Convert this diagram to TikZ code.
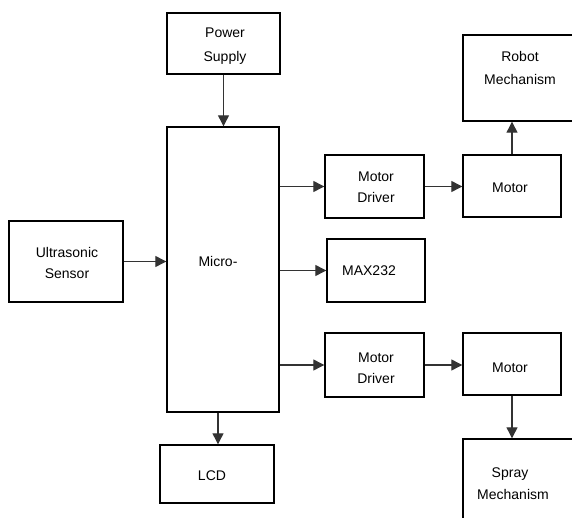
\documentclass[tikz,border=0pt]{standalone}
\usepackage{fontspec}
\setmainfont{Liberation Sans}
\usetikzlibrary{arrows.meta}
\tikzset{
  blk/.style={draw=black, line width=1.4pt, rectangle, inner sep=0pt},
  lbl/.style={font=\fontsize{14}{16}\selectfont, anchor=base, inner sep=0pt},
  arr/.style={line width=1.2pt, draw=black!80, -{Triangle[length=11pt,width=11pt]}},
}
\newcommand{\blkat}[5]{% name, x1, y1, x2, y2
  \node[blk, minimum width=#4pt-#2pt, minimum height=#5pt-#3pt] (#1) at ({(#2+#4)/2},{-(#3+#5)/2}) {};}
\begin{document}
\begin{tikzpicture}[x=1pt,y=1pt]
\useasboundingbox (0,0) rectangle (572,-518);
\clip (0,0) rectangle (572,-518);
% boxes
\blkat{ps}{167}{13}{280}{74}
\blkat{mc}{167}{127}{279}{412}
\blkat{us}{9}{221}{123}{302}
\blkat{lcd}{160}{445}{274}{503}
\blkat{mda}{325}{155}{424}{218}
\blkat{max}{327}{239}{425}{302}
\blkat{mdb}{325}{333}{424}{397}
\blkat{moa}{463}{155}{561}{217}
\blkat{mob}{463}{333}{561}{395}
\blkat{rob}{463}{35}{580}{121}
\blkat{spr}{463}{439}{580}{540}
% labels
\node[lbl] (tps1) at (225,-38) {Power};
\node[lbl] (tps2) at (225,-62) {Supply};
\node[lbl] (tmc) at (218,-266) {Micro-};
\node[lbl] (tus1) at (67,-258) {Ultrasonic};
\node[lbl] (tus2) at (67,-279) {Sensor};
\node[lbl] (tlcd) at (212,-480) {LCD};
\node[lbl] (tmda1) at (376,-182) {Motor};
\node[lbl] (tmda2) at (376,-203) {Driver};
\node[lbl] (tmax) at (369,-276) {MAX232};
\node[lbl] (tmdb1) at (376,-362) {Motor};
\node[lbl] (tmdb2) at (376,-383) {Driver};
\node[lbl] (tmoa) at (510,-193) {Motor};
\node[lbl] (tmob) at (510,-372) {Motor};
\node[lbl] (trob1) at (520,-62) {Robot};
\node[lbl] (trob2) at (520,-85) {Mechanism};
\node[lbl] (tspr1) at (510,-477) {Spray};
\node[lbl] (tspr2) at (513,-499) {Mechanism};
% connectors
\draw[arr] (ps.south) -- (ps.south |- mc.north);
\draw[arr] (us.east) -- (us.east -| mc.west);
\draw[arr] (mc.east |- mda.west) -- (mda.west);
\draw[arr] (mc.east |- max.west) -- (max.west);
\draw[arr] (mc.east |- mdb.west) -- (mdb.west);
\draw[arr] (mda.east) -- (mda.east -| moa.west);
\draw[arr] (mdb.east) -- (mdb.east -| mob.west);
\draw[arr] ([xshift=-5pt]mc.south) -- ([xshift=-5pt]mc.south |- lcd.north);
\draw[arr] (moa.north) -- (moa.north |- rob.south);
\draw[arr] (mob.south) -- (mob.south |- spr.north);
\end{tikzpicture}
\end{document}
